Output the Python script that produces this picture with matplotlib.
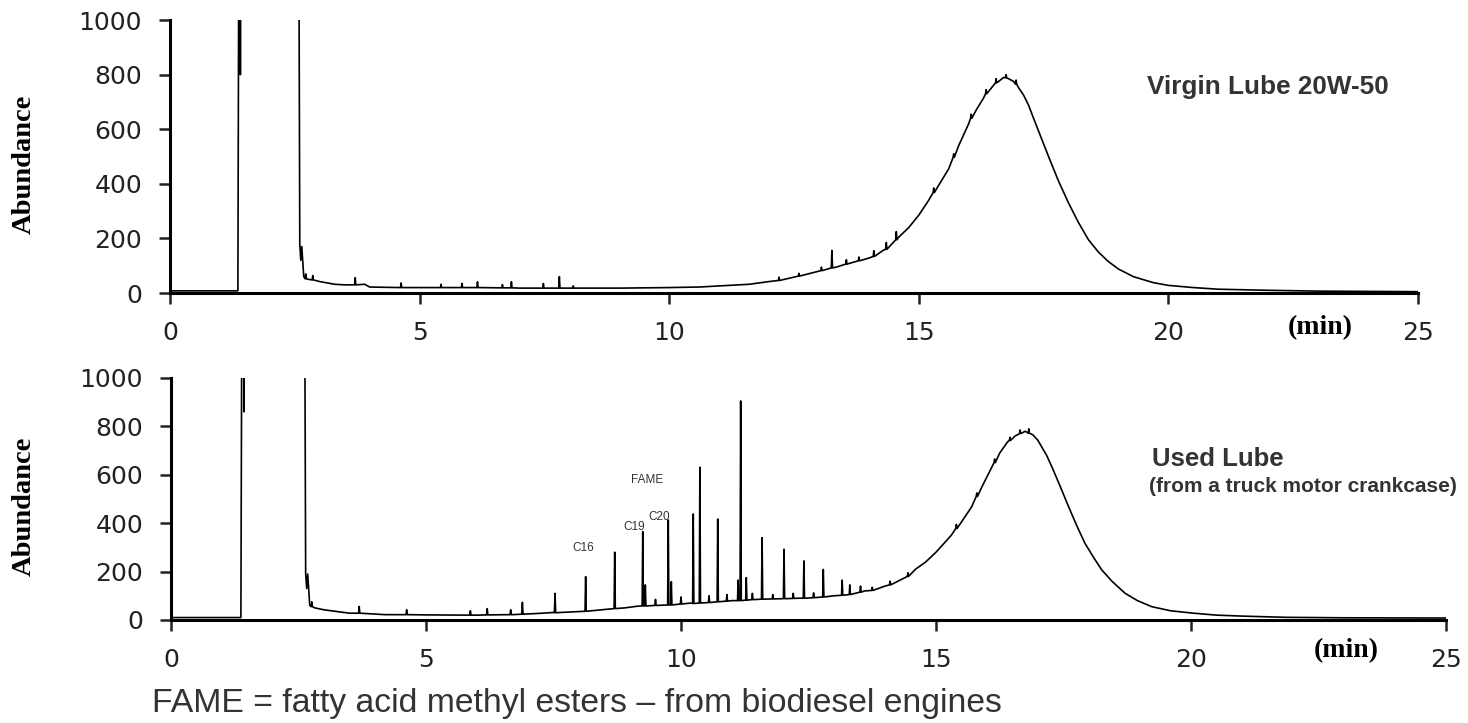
import numpy as np
import matplotlib
matplotlib.use("Agg")
import matplotlib.pyplot as plt

ticks_x = [0, 5, 10, 15, 20, 25]
ticks_y = [0, 200, 400, 600, 800, 1000]

# Virgin lube 20W-50: baseline + solvent front + hump (min, abundance)
virgin_t = [0, 1.36, 1.38, 1.40, 1.41, 1.42, 2.58, 2.60, 2.62, 2.64, 2.68, 2.78,
            3.0, 3.3, 3.5, 3.9, 4.0, 5.0, 6.0, 7.0, 8.0, 9.0, 10.0, 10.6, 11.0,
            11.6, 12.0, 12.5, 13.0, 13.35, 13.6, 14.0, 14.3, 14.6, 14.8, 15.0,
            15.2, 15.4, 15.6, 15.8, 16.0, 16.15, 16.3, 16.45, 16.6, 16.7, 16.8,
            16.9, 17.0, 17.1, 17.2, 17.3, 17.45, 17.6, 17.8, 18.0, 18.2, 18.4,
            18.6, 18.8, 19.0, 19.3, 19.7, 20.0, 20.5, 21.0, 22.0, 23.0, 25.0]
virgin_v = [8, 8, 1400, 1400, 800, 1400, 1400, 180, 120, 170, 60, 50,
            42, 32, 30, 32, 22, 20, 20, 18, 18, 18, 20, 22, 26,
            32, 42, 58, 80, 95, 108, 128, 158, 205, 240, 285,
            340, 395, 455, 540, 620, 670, 715, 750, 775, 790, 785,
            775, 752, 725, 688, 640, 570, 500, 410, 330, 258, 195,
            150, 115, 88, 60, 38, 28, 20, 14, 10, 7, 5]
# spikes: time, top, foot
virgin_pk_t = [2.72, 2.86, 3.71, 4.63, 5.43, 5.85, 6.16, 6.66, 6.84, 7.48, 7.8,
               8.08, 12.2, 12.6, 13.05, 13.26, 13.55, 13.8, 14.1, 14.35, 14.55,
               15.3, 15.7, 16.05, 16.35, 16.55, 16.75, 16.95]
virgin_pk_top = [70, 64, 56, 37, 32, 35, 41, 31, 41, 35, 60,
                 26, 58, 72, 95, 156, 122, 132, 155, 185, 225,
                 385, 510, 655, 745, 785, 800, 780]
virgin_pk_foot = [52, 48, 30, 20, 20, 20, 20, 19, 19, 18, 18,
                  18, 46, 62, 82, 92, 106, 118, 134, 160, 195,
                  368, 497, 640, 730, 770, 788, 765]

# Used lube (truck crankcase)
used_t = [0, 1.37, 1.39, 1.42, 1.43, 1.44, 2.62, 2.64, 2.66, 2.68, 2.72, 2.82,
          3.0, 3.5, 4.2, 5.0, 6.0, 6.7, 7.2, 7.5, 8.1, 8.4, 8.9, 9.15, 9.7,
          10.2, 11.0, 11.5, 12.3, 13.0, 13.6, 14.0, 14.3, 14.6, 14.8, 15.0,
          15.3, 15.5, 15.7, 15.9, 16.1, 16.25, 16.4, 16.55, 16.75, 16.9, 17.0,
          17.07, 17.17, 17.27, 17.43, 17.6, 17.76, 17.92, 18.1, 18.25, 18.45,
          18.71, 18.95, 19.23, 19.6, 20.05, 20.5, 21.0, 21.85, 23.0, 25.0]
used_v = [10, 10, 1400, 1400, 860, 1400, 1400, 190, 130, 190, 60, 50,
          42, 28, 22, 21, 20, 22, 27, 31, 36, 41, 50, 57, 62,
          70, 80, 85, 90, 100, 120, 140, 165, 210, 240, 280,
          350, 405, 468, 550, 634, 690, 735, 760, 780, 765, 742,
          716, 680, 634, 555, 468, 390, 317, 255, 207, 160,
          110, 80, 55, 38, 28, 20, 16, 11, 9, 8]
used_pk_t = [2.76, 3.69, 4.62, 5.87, 6.2, 6.66, 6.89, 7.53, 8.13, 8.70, 9.25,
             9.30, 9.5, 9.75, 9.81, 10.0, 10.24, 10.37, 10.55, 10.72, 10.9,
             11.12, 11.17, 11.28, 11.4, 11.59, 11.8, 12.02, 12.2, 12.41, 12.6,
             12.79, 13.16, 13.31, 13.52, 13.75, 14.1, 14.45,
             15.4, 15.8, 16.15, 16.45, 16.65, 16.82]
used_pk_top = [75, 56, 42, 38, 47, 42, 73, 110, 179, 280, 365,
               145, 85, 413, 158, 95, 438, 631, 100, 417, 105,
               165, 905, 175, 110, 340, 105, 292, 110, 244, 112,
               209, 165, 145, 140, 135, 160, 195,
               395, 525, 665, 755, 785, 790]
used_pk_foot = [55, 28, 22, 20, 21, 22, 24, 30, 36, 47, 58,
                58, 60, 62, 62, 66, 68, 70, 72, 75, 78,
                80, 80, 82, 84, 86, 87, 88, 89, 90, 92,
                95, 102, 105, 115, 122, 145, 180,
                378, 510, 650, 742, 770, 772]

fame_labels = ["C16", "C19", "C20"]
fame_label_t = [8.08, 9.09, 9.57]
fame_label_v = [299, 386, 424]


def trace(t, v, pt, ptop, pfoot, hw=0.012):
    xs = list(t)
    ys = list(v)
    for p, top, foot in zip(pt, ptop, pfoot):
        xs += [p - hw, p, p + hw]
        ys += [foot, top, foot]
    order = np.argsort(xs, kind="stable")
    return np.array(xs)[order], np.array(ys)[order]


def style(ax, lx):
    ax.set_xlim(0, 25)
    ax.set_ylim(0, 1000)
    for s in ("top", "right"):
        ax.spines[s].set_visible(False)
    for s in ("left", "bottom"):
        ax.spines[s].set_linewidth(2.2)
    ax.set_xticks(ticks_x)
    ax.set_yticks(ticks_y)
    ax.tick_params(direction="out", length=8, width=1.8, labelsize=18,
                   colors="#222222", pad=12)
    ax.set_ylabel("Abundance", family="Liberation Serif", fontweight="bold",
                  fontsize=20.5)
    ax.yaxis.set_label_coords(lx, 0.47)
    ax.text(23.05, -128, "(min)", family="Liberation Serif", fontweight="bold",
            fontsize=20, ha="center", va="center", clip_on=False)


fig = plt.figure(figsize=(14.68, 7.23), dpi=100)
ax1 = fig.add_axes([0.1158, 0.5947, 0.8501, 0.3776])
ax2 = fig.add_axes([0.1165, 0.1425, 0.8685, 0.3347])

x, y = trace(virgin_t, virgin_v, virgin_pk_t, virgin_pk_top, virgin_pk_foot)
ax1.plot(x, y, color="black", lw=1.2)
style(ax1, -0.1066)
ax1.text(19.58, 756, "Virgin Lube 20W-50", family="Liberation Sans",
         fontweight="bold", fontsize=18.8, color="#333333", va="center")

x, y = trace(used_t, used_v, used_pk_t, used_pk_top, used_pk_foot)
ax2.plot(x, y, color="black", lw=1.2)
style(ax2, -0.105)
ax2.text(19.23, 665, "Used Lube", family="Liberation Sans",
         fontweight="bold", fontsize=18.5, color="#333333", va="center")
ax2.text(19.17, 551, "(from a truck motor crankcase)", family="Liberation Sans",
         fontweight="bold", fontsize=15, color="#333333", va="center")
ax2.text(9.34, 579, "FAME", family="Liberation Sans", fontsize=8.5,
         color="#333333", ha="center", va="center")
for lab, t, v in zip(fame_labels, fame_label_t, fame_label_v):
    ax2.text(t, v, lab, family="Liberation Sans", fontsize=8.5,
             color="#333333", ha="center", va="center")

fig.text(152 / 1468, 0.027, "FAME = fatty acid methyl esters \u2013 from biodiesel engines",
         family="Liberation Sans", fontsize=24.3, color="#333333", va="center")

fig.savefig("out.png", dpi=100)
